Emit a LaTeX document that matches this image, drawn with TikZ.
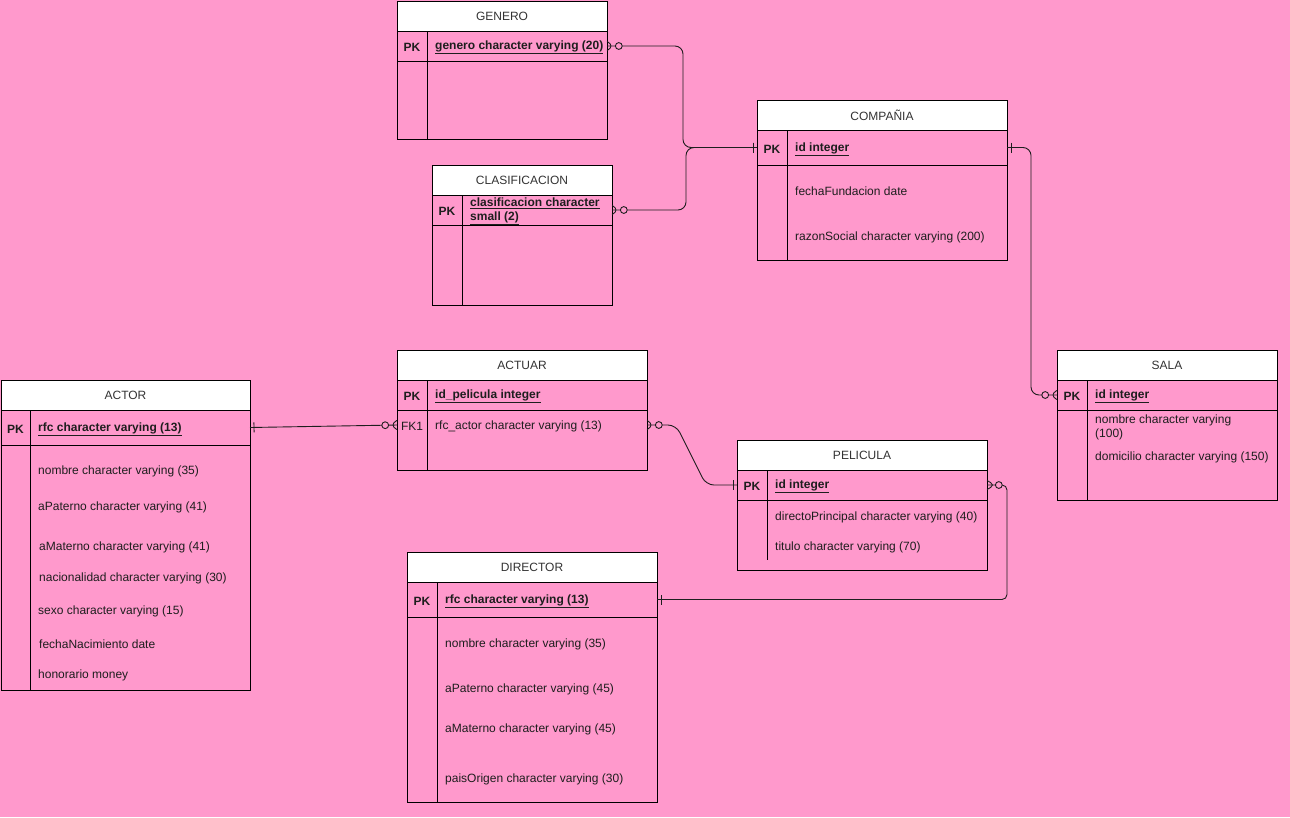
\documentclass[tikz,border=0pt]{standalone}
\usepackage{fontspec}
\usepackage{xcolor}
\usepackage{tikz}
\usetikzlibrary{decorations.markings}
\newfontfamily\erfam{Liberation Sans}
\newcommand{\erfont}{\erfam\fontsize{12}{14}\selectfont}
\definecolor{bgpink}{HTML}{FF99CC}
\definecolor{headgray}{HTML}{333333}
\definecolor{inkgray}{HTML}{1E1E1E}
\newcommand{\zmany}[1]{%
  \draw[relline] (0,-4.5) -- (#1*8,0) -- (0,4.5);
  \draw[relline,fill=bgpink] (#1*11.8,0) circle (3.4);}
\tikzset{
  tabline/.style={draw=black,line width=1pt},
  tabhead/.style={draw=black,line width=1pt,fill=white,anchor=north west,
    minimum height=30,inner sep=0pt,outer sep=0pt,text=headgray,font=\erfont},
  keyrow/.style={draw=black,line width=1pt,anchor=north west,
    minimum height=30,inner sep=0pt,outer sep=0pt},
  pklabel/.style={inner sep=0pt,yshift=-1.5pt,text=inkgray,font=\erfont\bfseries},
  pkattr/.style={anchor=west,align=left,inner sep=0pt,yshift=-1.5pt,text=inkgray,font=\erfont\bfseries},
  attr/.style={anchor=west,align=left,inner sep=0pt,yshift=-1.5pt,text=inkgray,font=\erfont},
  relline/.style={draw=inkgray,line width=0.9pt},
  rel/.style={relline,rounded corners=8},
  zmany start/.style={postaction={decorate,decoration={markings,
    mark=at position 0 with {\zmany{1}}}}},
  zmany end/.style={postaction={decorate,decoration={markings,
    mark=at position 1 with {\zmany{-1}}}}},
  one start/.style={postaction={decorate,decoration={markings,
    mark=at position 0 with {\draw[relline] (4,-5) -- (4,5);}}}},
  one end/.style={postaction={decorate,decoration={markings,
    mark=at position 1 with {\draw[relline] (-4,-5) -- (-4,5);}}}}
}
\begin{document}
\begin{tikzpicture}[x=1pt,y=-1pt]
  \useasboundingbox (0,0) rectangle (1290,817);
  \fill[bgpink] (0,0) rectangle (1290,817);

  % GENERO
  \node[tabhead,minimum width=210] (genero) at (397,1) {GENERO};
  \node[keyrow,minimum width=210] (genero-pk) at (397,31) {};
  \draw[tabline] (genero-pk.south west) rectangle (607,139) (427,31) -- (427,139);
  \node[pklabel] at (412,46) {PK};
  \node[pkattr] at (435,46) {\underline{genero character varying (20)}};

  % CLASIFICACION
  \node[tabhead,minimum width=180] (clas) at (432,165) {CLASIFICACION};
  \node[keyrow,minimum width=180] (clas-pk) at (432,195) {};
  \draw[tabline] (clas-pk.south west) rectangle (612,305) (462,195) -- (462,305);
  \node[pklabel] at (447,210) {PK};
  \node[pkattr] at (470,210) {\underline{clasificacion character}\\\underline{small (2)}};

  % COMPANIA
  \node[tabhead,minimum width=250] (comp) at (757,100) {COMPAÑIA};
  \node[keyrow,minimum width=250,minimum height=35] (comp-pk) at (757,130) {};
  \draw[tabline] (comp-pk.south west) rectangle (1007,260) (787,130) -- (787,260);
  \node[pklabel] at (772,148) {PK};
  \node[pkattr] at (795,148) {\underline{id integer}};
  \node[attr] at (795,190) {fechaFundacion date};
  \node[attr] at (795,236) {razonSocial character varying (200)};

  % SALA
  \node[tabhead,minimum width=220] (sala) at (1057,350) {SALA};
  \node[keyrow,minimum width=220] (sala-pk) at (1057,380) {};
  \draw[tabline] (sala-pk.south west) rectangle (1277,500) (1087,380) -- (1087,500);
  \node[pklabel] at (1072,395) {PK};
  \node[pkattr] at (1095,395) {\underline{id integer}};
  \node[attr] at (1095,426) {nombre character varying\\(100)};
  \node[attr] at (1095,456) {domicilio character varying (150)};

  % ACTOR
  \node[tabhead,minimum width=249] (actor) at (1,380) {ACTOR};
  \node[keyrow,minimum width=249,minimum height=35] (actor-pk) at (1,410) {};
  \draw[tabline] (actor-pk.south west) rectangle (250,690) (30,410) -- (30,690);
  \node[pklabel] at (15.5,428) {PK};
  \node[pkattr] at (38,428) {\underline{rfc character varying (13)}};
  \node[attr] at (38,470) {nombre character varying (35)};
  \node[attr] at (38,506) {aPaterno character varying (41)};
  \node[attr] at (39,546) {aMaterno character varying (41)};
  \node[attr] at (39,577) {nacionalidad character varying (30)};
  \node[attr] at (38,610) {sexo character varying (15)};
  \node[attr] at (39,643) {fechaNacimiento date};
  \node[attr] at (38,674) {honorario money};

  % ACTUAR
  \node[tabhead,minimum width=250] (actuar) at (397,350) {ACTUAR};
  \node[keyrow,minimum width=250] (actuar-pk) at (397,380) {};
  \node[keyrow,draw=none,minimum width=250] (actuar-fk) at (397,410) {};
  \draw[tabline] (actuar-pk.south west) rectangle (647,470) (427,380) -- (427,470);
  \node[pklabel] at (412,395) {PK};
  \node[pkattr] at (435,395) {\underline{id\_pelicula integer}};
  \node[attr,anchor=center] at (412,425) {FK1};
  \node[attr] at (435,425) {rfc\_actor character varying (13)};

  % PELICULA
  \node[tabhead,minimum width=250] (pel) at (737,440) {PELICULA};
  \node[keyrow,minimum width=250] (pel-pk) at (737,470) {};
  \draw[tabline] (pel-pk.south west) rectangle (987,570) (767,470) -- (767,560);
  \node[pklabel] at (752,485) {PK};
  \node[pkattr] at (775,485) {\underline{id integer}};
  \node[attr] at (775,516) {directoPrincipal character varying (40)};
  \node[attr] at (775,546) {titulo character varying (70)};

  % DIRECTOR
  \node[tabhead,minimum width=250] (dir) at (407,552) {DIRECTOR};
  \node[keyrow,minimum width=250,minimum height=35] (dir-pk) at (407,582) {};
  \draw[tabline] (dir-pk.south west) rectangle (657,802) (437,582) -- (437,802);
  \node[pklabel] at (422,600) {PK};
  \node[pkattr] at (445,600) {\underline{rfc character varying (13)}};
  \node[attr] at (445,643) {nombre character varying (35)};
  \node[attr] at (445,688) {aPaterno character varying (45)};
  \node[attr] at (445,728) {aMaterno character varying (45)};
  \node[attr] at (445,778) {paisOrigen character varying (30)};

  % relations
  \draw[rel,zmany start,one end] (genero-pk.east) -| (683,147.5) -- (comp-pk.west);
  \draw[rel,zmany start,one end] (clas-pk.east) -| (686,147.5) -- (comp-pk.west);
  \draw[rel,one start,zmany end] (comp-pk.east) -| (1031,395) -- (sala-pk.west);
  \draw[rel,one start,zmany end] (actor-pk.east) -- (actuar-fk.west);
  \draw[rel,zmany start,one end] (actuar-fk.east) -- (676,425) -- (706,485) -- (pel-pk.west);
  \draw[rel,zmany start,one end,rounded corners=5] (pel-pk.east) -| (1007,599.5) -- (dir-pk.east);
\end{tikzpicture}
\end{document}
